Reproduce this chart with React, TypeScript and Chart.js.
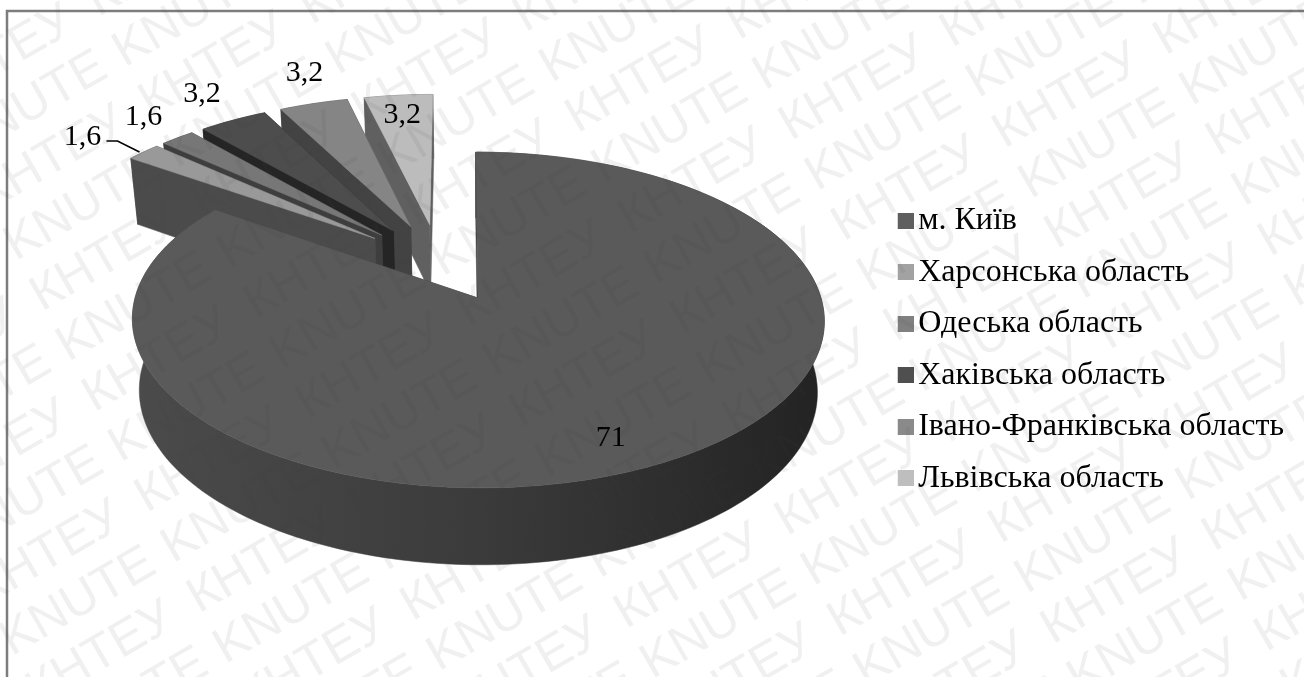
import { useEffect, useRef } from "react";
import Chart from "chart.js/auto";

// Regional shares, percent
const regions = [
  "м. Київ",
  "Харсонська область",
  "Одеська область",
  "Хаківська область",
  "Івано-Франківська область",
  "Львівська область",
];
const shares = [71, 1.6, 1.6, 3.2, 3.2, 3.2];
const shareLabels = ["71", "1,6", "1,6", "3,2", "3,2", "3,2"];

const topColors = ["#5a5a5a", "#999999", "#777777", "#4d4d4d", "#858585", "#bcbcbc"];
const faceColors = ["#3c3c3c", "#4b4b4b", "#3e3e3e", "#252525", "#434343", "#606060"];
const swatchColors = ["#5f5f5f", "#a2a2a2", "#808080", "#4f4f4f", "#8a8a8a", "#bebebe"];

// Label position relative to the middle of each slice's outer edge
const labelNudges = [
  [-49, -25],
  [-61, -15],
  [-34, -21],
  [-31, -26],
  [-9, -30],
  [4, 20],
];

const SERIF = "'Liberation Serif', serif";
const WATERMARK_ROWS = ["KNUTE", "КНТЕУ"];

// Tilted view of the pie plane: a perspective divide followed by an extrusion downwards
const camera = { x: 478, y: 298, rx: 343, ry: 165, tilt: 0.131, vanish: 20 };
const EXPLODE_PX = 73;

type Pt = [number, number];

const project = (u: number, v: number): Pt => {
  const s = 1 / (1 + camera.tilt * v);
  return [
    camera.x - camera.vanish + (camera.vanish + camera.rx * u) * s,
    camera.y - camera.ry * v * s,
  ];
};
const lower = ([x, y]: Pt): Pt => [
  camera.x + (x - camera.x) * 0.98,
  y + 66 + (y - 157) * 0.033,
];

const fillPoly = (ctx: CanvasRenderingContext2D, pts: Pt[], fill: any) => {
  ctx.beginPath();
  pts.forEach(([x, y], i) => (i ? ctx.lineTo(x, y) : ctx.moveTo(x, y)));
  ctx.closePath();
  ctx.fillStyle = fill;
  ctx.fill();
  ctx.strokeStyle = fill;
  ctx.lineWidth = 0.5;
  ctx.stroke();
};

// Offset of an arc's tip in plane units, taken from the arc element itself
const tipOf = (arc: any) => {
  const mid = (arc.startAngle + arc.endAngle) / 2;
  const e = arc.options.offset / arc.outerRadius;
  return { u: e * Math.cos(mid), v: -e * Math.sin(mid) };
};

const pie3d = {
  id: "pie3d",
  beforeDraw(chart: any) {
    const { ctx, width, height } = chart;
    ctx.save();
    ctx.fillStyle = "#ffffff";
    ctx.fillRect(0, 0, width, height);
    ctx.strokeStyle = "#7d7d7d";
    ctx.lineWidth = 2.5;
    ctx.strokeRect(7, 11, width + 20, height + 20);
    ctx.restore();
  },
  beforeDatasetDraw(chart: any, args: any) {
    const { ctx } = chart;
    const arcs = chart.getDatasetMeta(args.index).data;
    const anchor = tipOf(arcs[0]);
    const point = (arc: any, phi: number, rho: number) => {
      const tip = tipOf(arc);
      return project(
        tip.u - anchor.u + rho * Math.cos(phi),
        tip.v - anchor.v - rho * Math.sin(phi)
      );
    };

    ctx.save();
    // Back slices first, the large front slice last
    const order = arcs.map((_: any, i: number) => i).reverse();
    for (const i of order) {
      const arc = arcs[i];
      const steps = Math.max(6, Math.ceil((arc.endAngle - arc.startAngle) * 40));
      const rim: Pt[] = [];
      for (let s = 0; s <= steps; s++) {
        rim.push(point(arc, arc.startAngle + ((arc.endAngle - arc.startAngle) * s) / steps, 1));
      }
      const tip = point(arc, 0, 0);
      let wall: any = faceColors[i];
      if (i === 0) {
        wall = ctx.createLinearGradient(camera.x - camera.rx, 0, camera.x + camera.rx, 0);
        wall.addColorStop(0, "#4b4b4b");
        wall.addColorStop(0.5, "#3b3b3b");
        wall.addColorStop(1, "#232323");
      }
      fillPoly(ctx, [...rim, ...rim.map(lower).reverse()], wall);
      fillPoly(ctx, [tip, rim[0], lower(rim[0]), lower(tip)], faceColors[i]);
      fillPoly(ctx, [tip, rim[steps], lower(rim[steps]), lower(tip)], faceColors[i]);
      fillPoly(ctx, [tip, ...rim], topColors[i]);
    }

    // Value labels
    ctx.fillStyle = "#000000";
    ctx.font = `30px ${SERIF}`;
    ctx.textAlign = "center";
    ctx.textBaseline = "middle";
    arcs.forEach((arc: any, i: number) => {
      const [x, y] = point(arc, (arc.startAngle + arc.endAngle) / 2, 1);
      ctx.fillText(shareLabels[i], x + labelNudges[i][0], y + labelNudges[i][1]);
    });

    // Leader line of the second slice's label
    const [lx, ly] = point(arcs[1], (arcs[1].startAngle + arcs[1].endAngle) / 2, 1);
    ctx.beginPath();
    ctx.moveTo(lx - 37, ly - 11);
    ctx.lineTo(lx - 26, ly - 11);
    ctx.lineTo(lx - 4, ly);
    ctx.strokeStyle = "#000000";
    ctx.lineWidth = 1.6;
    ctx.stroke();
    ctx.restore();
    return false;
  },
  afterDraw(chart: any) {
    const { ctx } = chart;
    ctx.save();
    ctx.rotate((-30 * Math.PI) / 180);
    ctx.font = "50px 'Liberation Sans', sans-serif";
    ctx.fillStyle = "rgba(60,60,60,0.08)";
    ctx.textBaseline = "alphabetic";
    const pitch = 186;
    const rowGap = 56.7;
    for (let row = -22; row < 12; row++) {
      const y = 1028 + row * rowGap;
      const word = WATERMARK_ROWS[((row % 2) + 2) % 2];
      for (let col = -8; col < 10; col++) {
        ctx.fillText(word, 592 - 2.5 * row + col * pitch, y);
      }
    }
    ctx.restore();
  },
};

const makeSwatch = (color: string) => {
  const c = document.createElement("canvas");
  c.width = 24;
  c.height = 16;
  const g = c.getContext("2d")!;
  g.fillStyle = color;
  g.fillRect(8, 0, 16, 16);
  return c;
};

export default function App() {
  const ref = useRef<HTMLCanvasElement>(null);
  useEffect(() => {
    const swatches = swatchColors.map(makeSwatch);
    const chart = new Chart(ref.current!, {
      type: "pie",
      data: {
        labels: regions,
        datasets: [
          {
            data: shares,
            backgroundColor: topColors,
            borderWidth: 0,
            offset: EXPLODE_PX,
          },
        ],
      },
      options: {
        responsive: false,
        animation: false,
        layout: { padding: { top: 22, right: 10, bottom: 0, left: 0 } },
        plugins: {
          tooltip: { enabled: false },
          legend: {
            position: "right",
            labels: {
              usePointStyle: true,
              pointStyleWidth: 1,
              boxHeight: 16,
              padding: 19.5,
              color: "#000000",
              font: { family: SERIF, size: 32 },
              generateLabels: () =>
                regions.map((text, i) => ({
                  text,
                  index: i,
                  pointStyle: swatches[i],
                  fillStyle: swatchColors[i],
                  strokeStyle: swatchColors[i],
                  lineWidth: 0,
                  hidden: false,
                })),
            },
          },
        },
      },
      plugins: [pie3d],
    } as any);
    return () => chart.destroy();
  }, []);
  return (
    <canvas
      ref={ref}
      width={1304}
      height={677}
      style={{ position: "fixed", left: 0, top: 0, display: "block" }}
    />
  );
}
